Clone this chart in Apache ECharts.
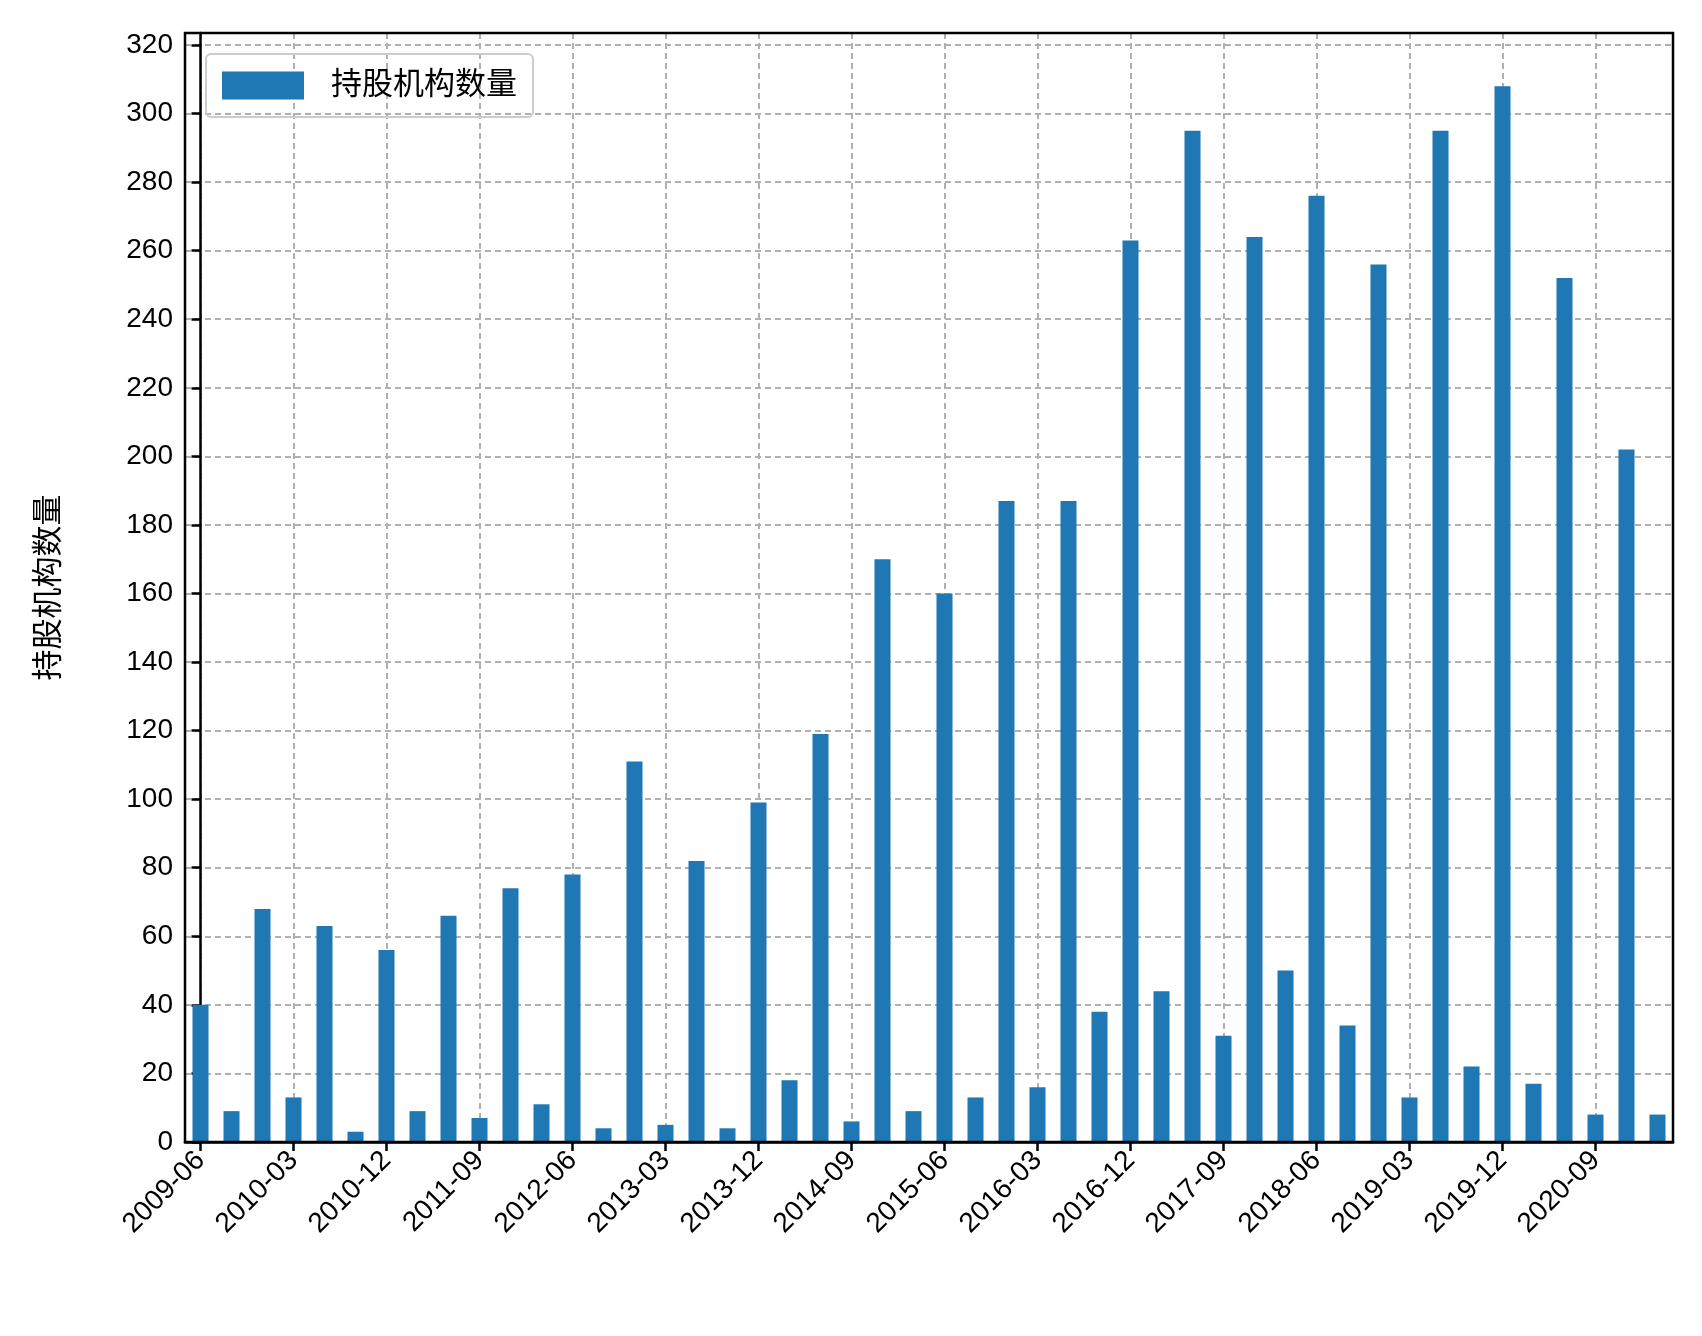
<html>
<head>
    <meta http-equiv="Content-Type" content="text/html; charset=utf-8" />
    <script src="https://cdn.jsdelivr.net/npm/echarts@6/dist/echarts.min.js"></script>
</head>
<body style="margin:0;background:#fff">
<div id="main" style="width:1702px;height:1336px;"></div>
<script type="text/javascript">
    // 季度
    var quarters = [];
    var years = [2009, 2010, 2011, 2012, 2013, 2014, 2015, 2016, 2017, 2018, 2019, 2020, 2021];
    var months = ['03', '06', '09', '12'];
    years.forEach(function (y) {
        months.forEach(function (m) { quarters.push(y + '-' + m); });
    });
    quarters = quarters.slice(1, 49); // 2009-06 .. 2021-03

    // 持股机构数量
    var counts = [40, 9, 68, 13, 63, 3, 56, 9, 66, 7, 74, 11, 78, 4, 111, 5,
        82, 4, 99, 18, 119, 6, 170, 9, 160, 13, 187, 16, 187, 38, 263, 44,
        295, 31, 264, 50, 276, 34, 256, 13, 295, 22, 308, 17, 252, 8, 202, 8];

    // 每3个季度标注一次
    var labelIdx = [];
    for (var i = 0; i < quarters.length; i += 3) labelIdx.push(i);

    var barData = counts.map(function (v, i) { return [i, v]; });

    var font = 'Liberation Sans, Arial, "Noto Sans CJK SC", sans-serif';
    var grid = '#b0b0b0';
    var myChart = echarts.init(document.getElementById('main'));
    myChart.setOption({
        animation: false,
        grid: { left: 185, right: 29, top: 33, bottom: 194, show: true, borderColor: '#000', borderWidth: 2.5, z: 10 },
        legend: {
            left: 206, top: 54, itemWidth: 82, itemHeight: 28, icon: 'rect',
            padding: [16, 16, 16, 16],
            borderColor: '#ccc', borderWidth: 2, borderRadius: 5,
            textStyle: { fontSize: 31, fontFamily: font, color: '#000', padding: [0, 0, 0, 22] },
            data: ['持股机构数量']
        },
        xAxis: {
            type: 'value', min: -0.5, max: 47.5,
            axisLine: { show: true, onZero: false, lineStyle: { color: '#000', width: 2.5 } },
            axisTick: { show: true, customValues: labelIdx, length: 9, lineStyle: { color: '#000', width: 2.5 } },
            axisLabel: {
                customValues: labelIdx, rotate: 45, fontSize: 28, color: '#000', fontFamily: font, margin: 14,
                formatter: function (v) { return quarters[Math.round(v)]; }
            },
            splitLine: { show: true, lineStyle: { color: grid, type: [6, 4], width: 2 } }
        },
        yAxis: {
            type: 'value', min: 0, max: 323.5, interval: 20,
            name: '持股机构数量', nameLocation: 'middle', nameGap: 120,
            nameTextStyle: { fontSize: 31, color: '#000', fontFamily: font },
            axisLine: { show: true, lineStyle: { color: '#000', width: 2.5 } },
            axisTick: { show: true, length: 9, lineStyle: { width: 2.5 } },
            axisLabel: { fontSize: 28, color: '#000', fontFamily: font, showMaxLabel: false, margin: 12 },
            splitLine: { showMaxLine: false, lineStyle: { color: grid, type: [6, 4], width: 2 } }
        },
        series: [{
            name: '持股机构数量', type: 'bar', data: barData,
            barWidth: 16, itemStyle: { color: '#1f77b4' }
        }]
    });
</script>
</body>
</html>
